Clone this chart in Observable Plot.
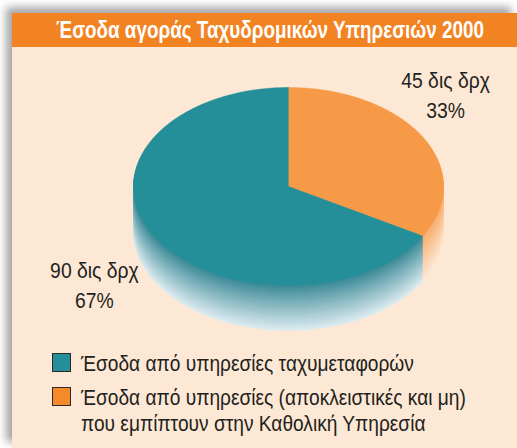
<!DOCTYPE html>
<html><head><meta charset="utf-8">
<script src="https://cdn.jsdelivr.net/npm/d3@7"></script>
<script src="https://cdn.jsdelivr.net/npm/@observablehq/plot@0.6"></script>
<style>
body{margin:0;background:#fff;width:517px;height:448px;overflow:hidden;font-family:"Liberation Sans",Arial,sans-serif;}
#frame{position:absolute;left:12px;top:13px;width:505px;height:435px;background:#FDE8D5;box-shadow:-6px -6px 8px rgba(0,0,0,0.35);}
#title{position:relative;height:34px;line-height:34px;background:#F28322;color:#fff;font-weight:bold;font-size:24.5px;white-space:nowrap;}
#title span{position:absolute;left:258px;top:0;transform:translateX(-50%) scaleX(0.77);transform-origin:center;}
#chart{position:absolute;left:0;top:34px;}
.sw{position:absolute;left:40px;width:17px;height:17px;border:1.5px solid #2a2a2a;}
.lt{position:absolute;left:69px;font-size:22px;line-height:26px;color:#231f20;white-space:pre;transform:scaleX(0.87);transform-origin:left top;}
</style></head><body>
<div id="frame"><div id="title"><span></span></div><div id="chart"></div><div id="legend"></div></div>
<script>
const title = "Έσοδα αγοράς Ταχυδρομικών Υπηρεσιών 2000";
const categories = ["Έσοδα από υπηρεσίες (αποκλειστικές και μη)\nπου εμπίπτουν στην Καθολική Υπηρεσία", "Έσοδα από υπηρεσίες ταχυμεταφορών"];
const values = [45, 90];
const valueLabels = ["45 δις δρχ", "90 δις δρχ"];
const percentLabels = ["33%", "67%"];
const topColors = ["#F79A48", "#258F99"];
const sideTop = ["#f8ad6c", "#3a8996"];
const sideBottom = ["#fde7d4", "#dcebf0"];
const legendColors = ["#F58A2B", "#258F99"];
const legendOrder = [1, 0];

document.querySelector("#title span").textContent = title;

// layout (pixels)
const RY = 99, DEPTH = 45;
const labelPos = [[1.013, -0.94], [-1.252, 0.979]];

const arcs = d3.pie().sort(null).value(d => d)(values);
function slicePoly(a, dy) {
  const pts = [[0, dy]];
  const n = Math.max(2, Math.ceil((a.endAngle - a.startAngle) / (Math.PI / 180)));
  for (let i = 0; i <= n; i++) {
    const t = a.startAngle + (a.endAngle - a.startAngle) * i / n;
    pts.push([Math.sin(t), -Math.cos(t) + dy]);
  }
  return pts;
}
const sideData = [];
for (let d = DEPTH; d >= 1; d--) {
  arcs.forEach((a, i) => {
    const t = Math.pow(d / DEPTH, 0.95);
    const c = d3.interpolateRgb(sideTop[i], sideBottom[i])(t);
    slicePoly(a, d / RY).forEach(([x, y]) => sideData.push({x, y, key: `s${d}-${i}`, color: c}));
  });
}
const faceData = [];
arcs.forEach((a, i) => slicePoly(a, 0).forEach(([x, y]) => faceData.push({x, y, key: `t${i}`, color: topColors[i]})));
const labelData = values.map((v, i) => ({x: labelPos[i][0], y: labelPos[i][1], text: valueLabels[i] + "\n" + percentLabels[i]}));

const chart = Plot.plot({
  width: 505, height: 296, margin: 0,
  x: {domain: [-1, 1], range: [121, 431], axis: null},
  y: {domain: [-1, 1], range: [40, 238], axis: null},
  color: {type: "identity"},
  style: {background: "transparent", overflow: "visible"},
  marks: [
    Plot.line(sideData, {x: "x", y: "y", z: "key", fill: "color", stroke: "color", strokeWidth: 0.6}),
    Plot.line(faceData, {x: "x", y: "y", z: "key", fill: "color", stroke: "color", strokeWidth: 0.5}),
    Plot.text(labelData, {x: "x", y: "y", text: "text", fontSize: 22, fill: "#231f20", lineHeight: 1.36, fontFamily: "Liberation Sans, Arial, sans-serif"})
  ]
});
chart.querySelectorAll("text").forEach(t => {
  const tr = t.getAttribute("transform");
  if (tr) t.setAttribute("transform", tr + " scale(0.88,1)");
  else {
    const x = +t.getAttribute("x") || 0, y = +t.getAttribute("y") || 0;
    t.removeAttribute("x"); t.removeAttribute("y");
    t.querySelectorAll("tspan").forEach(s => { if (s.hasAttribute("x")) s.setAttribute("x", 0); });
    t.setAttribute("transform", `translate(${x},${y}) scale(0.88,1)`);
  }
});
document.getElementById("chart").appendChild(chart);

const lg = document.getElementById("legend");
const swTops = [340, 374], txtTops = [338, 372];
legendOrder.forEach((k, j) => {
  const s = document.createElement("div");
  s.className = "sw"; s.style.top = swTops[j] + "px"; s.style.background = legendColors[k];
  lg.appendChild(s);
  const t = document.createElement("div");
  t.className = "lt"; t.style.top = txtTops[j] + "px"; t.textContent = categories[k];
  lg.appendChild(t);
});
</script>
</body></html>
